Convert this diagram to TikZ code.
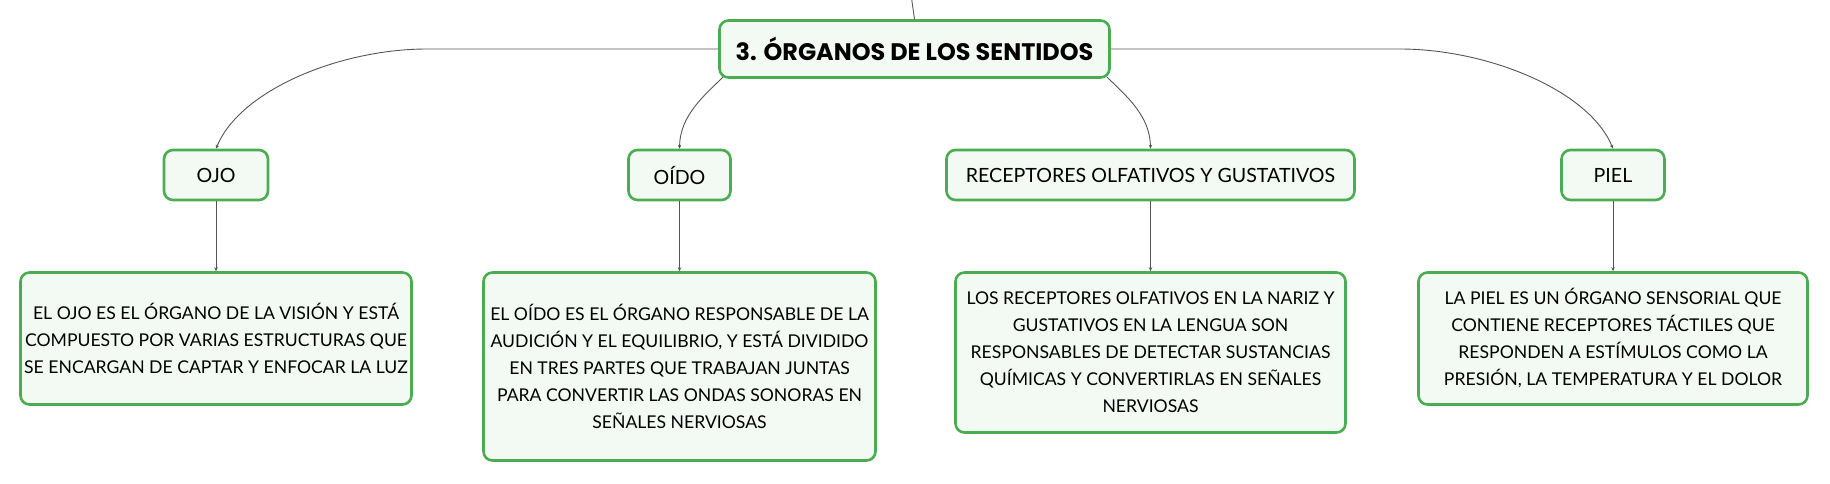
\documentclass[tikz,border=0pt]{standalone}
\usepackage{fontspec}
\setmainfont{Lato}
\newfontfamily\titlefont{Poppins}
\usetikzlibrary{arrows.meta,calc}
\definecolor{bordergreen}{RGB}{76,172,82}
\definecolor{fillgreen}{RGB}{242,250,243}
\definecolor{linegray}{RGB}{85,85,85}
\tikzset{
  box/.style={draw=bordergreen, line width=2.6pt, fill=fillgreen, rounded corners=9pt,
    align=center, inner sep=0pt, font=\fontsize{17.6}{27}\selectfont},
  childbox/.style={box, minimum height=50pt, font=\fontsize{19.6}{24}\selectfont},
  conn/.style={draw=linegray, line width=0.9pt, -{Stealth[length=4pt,width=3.5pt]}},
  plainconn/.style={draw=linegray, line width=0.9pt},
}
\begin{document}
\begin{tikzpicture}[x=1pt,y=-1pt]
\useasboundingbox (0,0) rectangle (1830,483);
% main
\node[box, minimum width=390pt, minimum height=57pt, font=\titlefont\bfseries\fontsize{23.9}{28}\selectfont] (title) at (914.5,49) {3. ÓRGANOS DE LOS SENTIDOS};
% children
\node[childbox, minimum width=104pt] (ojo) at (216,175) {OJO};
\node[childbox, minimum width=102pt] (oido) at (679.5,175) {OÍDO};
\node[childbox, minimum width=408pt] (rec) at (1150.5,175) {RECEPTORES OLFATIVOS Y GUSTATIVOS};
\node[childbox, minimum width=103pt] (piel) at (1613,175) {PIEL};
% descriptions
\node[box, minimum width=391pt, minimum height=132pt] (dojo) at (216,338.5)
  {EL OJO ES EL ÓRGANO DE LA VISIÓN Y ESTÁ\\COMPUESTO POR VARIAS ESTRUCTURAS QUE\\SE ENCARGAN DE CAPTAR Y ENFOCAR LA LUZ};
\node[box, minimum width=392pt, minimum height=188pt] (doido) at (679.5,366.5)
  {EL OÍDO ES EL ÓRGANO RESPONSABLE DE LA\\AUDICIÓN Y EL EQUILIBRIO, Y ESTÁ DIVIDIDO\\EN TRES PARTES QUE TRABAJAN JUNTAS\\PARA CONVERTIR LAS ONDAS SONORAS EN\\SEÑALES NERVIOSAS};
\node[box, minimum width=390pt, minimum height=160pt] (drec) at (1150.5,352.5)
  {LOS RECEPTORES OLFATIVOS EN LA NARIZ Y\\GUSTATIVOS EN LA LENGUA SON\\RESPONSABLES DE DETECTAR SUSTANCIAS\\QUÍMICAS Y CONVERTIRLAS EN SEÑALES\\NERVIOSAS};
\node[box, minimum width=389pt, minimum height=132pt] (dpiel) at (1613,338.5)
  {LA PIEL ES UN ÓRGANO SENSORIAL QUE\\CONTIENE RECEPTORES TÁCTILES QUE\\RESPONDEN A ESTÍMULOS COMO LA\\PRESIÓN, LA TEMPERATURA Y EL DOLOR};
% coordinates
\coordinate (topin) at (911.5,-2);
\coordinate (lh) at (427,49);
\coordinate (rh) at (1400,49);
\coordinate (tl) at (723,77);
\coordinate (tr) at (1107,77);
% connectors
\draw[plainconn] (topin) -- (title.north);
\draw[conn] (title.west) -- (lh) .. controls (340,49) and (240,90) .. (ojo.north);
\draw[conn] (title.east) -- (rh) .. controls (1487,49) and (1589,90) .. (piel.north);
\draw[conn] (tl) .. controls (705,95) and (680,115) .. (oido.north);
\draw[conn] (tr) .. controls (1125,95) and (1150,115) .. (rec.north);
\draw[conn] (ojo.south) -- (dojo.north);
\draw[conn] (oido.south) -- (doido.north);
\draw[conn] (rec.south) -- (drec.north);
\draw[conn] (piel.south) -- (dpiel.north);
\end{tikzpicture}
\end{document}
